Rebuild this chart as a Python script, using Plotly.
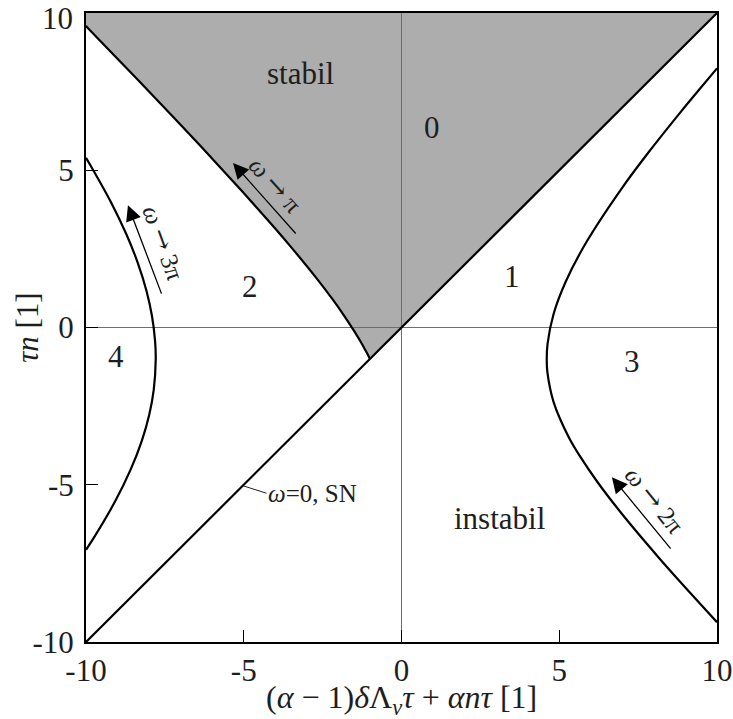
import plotly.graph_objects as go

# Axis ranges and tick labels
X_RANGE = [-10, 10]
Y_RANGE = [-10, 10]
TICK_VALS = [-10, -5, 0, 5, 10]
TICK_TEXT = ["-10", "-5", "0", "5", "10"]

# Saddle-node line (omega = 0)
SN_X = [-10, 10]
SN_Y = [-10, 10]

# Hopf branch omega in (0, pi): boundary of the stable region
HOPF1_X = [-1.0, -1.0105, -1.0429, -1.1003, -1.1884, -1.3172, -1.5038, -1.8484,
           -2.1995, -2.7211, -3.5530, -4.1771, -5.0436, -6.3173, -7.2046,
           -8.3582, -9.9130, -10.006]
HOPF1_Y = [-1.0, -0.9791, -0.9152, -0.8051, -0.6421, -0.4153, -0.1064, 0.4200,
           0.9153, 1.6014, 2.6199, 3.3464, 4.3219, 5.7115, 6.6593,
           7.8751, 9.4947, 9.591]

# Hopf branch omega in (pi, 2 pi)
HOPF2_X = [10.0, 8.9387, 8.1352, 6.9832, 6.2106, 5.6705, 5.2854, 4.8188, 4.6238,
           4.6034, 4.6292, 4.8185, 5.2142, 5.8860, 6.9879, 7.7955, 8.8710,
           9.4046, 10.0]
HOPF2_Y = [-9.37, -8.2036, -7.2953, -5.9225, -4.9124, -4.1164, -3.4548, -2.3625,
           -1.4210, -1.0, -0.5192, 0.4216, 1.4791, 2.7577, 4.4352, 5.5244,
           6.8801, 7.5258, 8.24]

# Hopf branch omega in (2 pi, 3 pi)
HOPF3_X = [-10.0, -9.7398, -9.0718, -8.5864, -8.2341, -7.9957, -7.8519, -7.7897,
           -7.8114, -7.9087, -8.0860, -8.3515, -8.7166, -9.2001, -9.8292, -10.0]
HOPF3_Y = [-7.07, -6.6674, -5.5188, -4.5205, -3.6112, -2.7716, -1.9730, -1.0022,
           -0.4216, 0.3638, 1.1765, 2.0339, 2.9562, 3.9691, 5.1046, 5.395]

# Region labels
REGION_TEXT = ["stabil", "instabil", "0", "1", "2", "3", "4"]
REGION_X = [-3.21, 3.10, 0.96, 3.51, -4.80, 7.30, -9.05]
REGION_Y = [8.09, -6.07, 6.35, 1.61, 1.29, -1.09, -0.91]

# Direction arrows along the Hopf branches: (tip x, tip y, tail x, tail y)
ARROWS = [(-5.34, 5.23, -3.31, 2.94),
          (-8.67, 3.89, -7.59, 1.03),
          (6.67, -4.76, 8.57, -7.08)]
ARROW_GLYPH = "<span style=\"font-family:'DejaVu Serif';font-size:26px\">→</span>"
ARROW_TEXT = ["<i>ω</i> " + ARROW_GLYPH + " π",
              "<i>ω</i> " + ARROW_GLYPH + " 3π",
              "<i>ω</i> " + ARROW_GLYPH + " 2π"]
ARROW_TEXT_X = [-3.98, -7.53, 8.03]
ARROW_TEXT_Y = [4.53, 2.69, -5.49]
ARROW_TEXT_ANGLE = [48, 70, 51]

# Saddle-node label with leader line
SN_LABEL = "<i>ω</i>=0, SN"
SN_LEADER = (-5.03, -5.03, -4.28, -5.27)

FONT = "Liberation Serif, Times New Roman, serif"
INK = "#1e1e1e"
SHADE = "#adadad"

fig = go.Figure()

# Shaded stable region: Hopf branch up to the left edge, along the top, back down the SN line
fill_x = HOPF1_X + [X_RANGE[0], X_RANGE[1]]
fill_y = HOPF1_Y + [Y_RANGE[1], Y_RANGE[1]]
fig.add_trace(go.Scatter(x=fill_x, y=fill_y, mode="lines", fill="toself",
                         fillcolor=SHADE, line=dict(width=0), hoverinfo="skip"))

# Thin coordinate cross through the origin
fig.add_trace(go.Scatter(x=X_RANGE, y=[0, 0], mode="lines",
                         line=dict(color="#6e6e6e", width=1), hoverinfo="skip"))
fig.add_trace(go.Scatter(x=[0, 0], y=Y_RANGE, mode="lines",
                         line=dict(color="#6e6e6e", width=1), hoverinfo="skip"))

# Bifurcation curves
fig.add_trace(go.Scatter(x=SN_X, y=SN_Y, mode="lines",
                         line=dict(color="black", width=2.2)))
for cx, cy in [(HOPF1_X, HOPF1_Y), (HOPF2_X, HOPF2_Y), (HOPF3_X, HOPF3_Y)]:
    fig.add_trace(go.Scatter(x=cx, y=cy, mode="lines",
                             line=dict(color="black", width=2.2, shape="spline",
                                       smoothing=0.8)))

annotations = []
for t, x, y in zip(REGION_TEXT, REGION_X, REGION_Y):
    annotations.append(dict(x=x, y=y, xref="x", yref="y", text=t, showarrow=False,
                            font=dict(family=FONT, size=31, color=INK)))

for (tx, ty, sx, sy) in ARROWS:
    annotations.append(dict(x=tx, y=ty, ax=sx, ay=sy, xref="x", yref="y",
                            axref="x", ayref="y", text="", showarrow=True,
                            arrowhead=2, arrowsize=2.4, arrowwidth=1.3,
                            arrowcolor="black"))

for t, x, y, a in zip(ARROW_TEXT, ARROW_TEXT_X, ARROW_TEXT_Y, ARROW_TEXT_ANGLE):
    annotations.append(dict(x=x, y=y, xref="x", yref="y", text=t, showarrow=False,
                            textangle=a, font=dict(family=FONT, size=25, color=INK)))

lx0, ly0, lx1, ly1 = SN_LEADER
annotations.append(dict(x=lx1, y=ly1, xref="x", yref="y", text=SN_LABEL,
                        showarrow=False, xanchor="left",
                        font=dict(family=FONT, size=25, color=INK)))

# Top y tick label, nudged down so it stays inside the page
annotations.append(dict(x=-0.017, y=1, xref="paper", yref="paper",
                        text=TICK_TEXT[-1], showarrow=False, xanchor="right",
                        yanchor="top", yshift=14,
                        font=dict(family=FONT, size=31, color=INK)))

# Axis titles
annotations.append(dict(x=0.5, y=-0.092, xref="paper", yref="paper",
                        text="(<i>α</i> − 1)<i>δ</i>Λ<sub><i>ν</i></sub><i>τ</i> + <i>αnτ</i> [1]",
                        showarrow=False, yanchor="middle",
                        font=dict(family=FONT, size=32, color=INK)))
annotations.append(dict(x=-0.093, y=0.5, xref="paper", yref="paper",
                        text="<i>τn</i> [1]", textangle=-90, showarrow=False,
                        xanchor="center", yanchor="middle",
                        font=dict(family=FONT, size=31, color=INK)))

shapes = [dict(type="line", xref="x", yref="y", x0=lx0, y0=ly0, x1=lx1, y1=ly1,
               line=dict(color=INK, width=1))]

axis_common = dict(showgrid=False, zeroline=False, showline=True,
                   linecolor="black", linewidth=2, mirror=True, ticks="inside",
                   ticklen=12, tickwidth=1, tickcolor="black",
                   tickvals=TICK_VALS, automargin=False,
                   ticklabeloverflow="allow",
                   tickfont=dict(family=FONT, size=31, color=INK))

fig.update_layout(
    width=733, height=719,
    margin=dict(l=86, r=16, t=13, b=77, autoexpand=False),
    paper_bgcolor="white", plot_bgcolor="white",
    showlegend=False,
    xaxis=dict(axis_common, range=X_RANGE, ticktext=TICK_TEXT, ticklabelstandoff=0),
    yaxis=dict(axis_common, range=Y_RANGE, ticktext=TICK_TEXT[:-1] + [""],
               ticklabelstandoff=4),
    annotations=annotations,
    shapes=shapes,
)

fig.write_html("out.html")
